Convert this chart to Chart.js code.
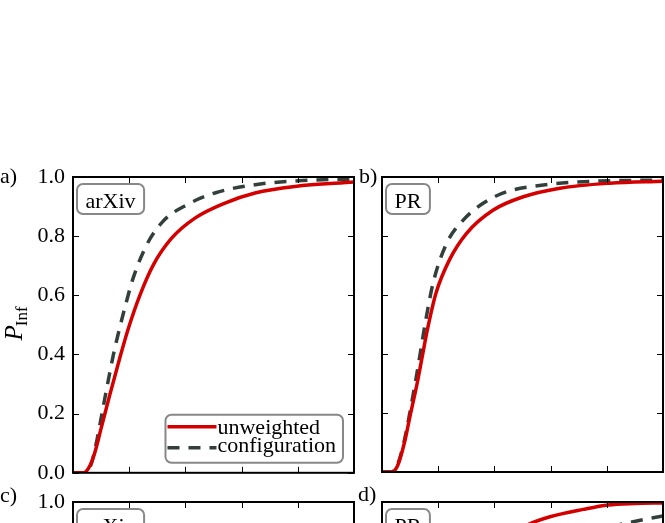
<!DOCTYPE html>
<html>
<head>
<meta charset="utf-8">
<script src="https://cdn.jsdelivr.net/npm/chart.js@4.4.1/dist/chart.umd.min.js"></script>
<style>
  html, body { margin: 0; padding: 0; background: #fff; }
  #wrap { position: relative; width: 665px; height: 523px; overflow: hidden; background: #fff; }
  #wrap canvas { position: absolute; }
</style>
</head>
<body>
<div id="wrap">
  <canvas id="panelA" width="358" height="344" style="left:0px;top:150px"></canvas>
  <canvas id="panelB" width="310" height="330" style="left:355px;top:150px"></canvas>
  <canvas id="panelC" width="358" height="344" style="left:0px;top:475px"></canvas>
  <canvas id="panelD" width="310" height="330" style="left:355px;top:475px"></canvas>
</div>
<script>
// axis ticks (no x labels are shown in the figure)
var xTicks = [0, 0.2, 0.4, 0.6, 0.8, 1.0];
var yTicks = [0, 0.2, 0.4, 0.6, 0.8, 1.0];
var seriesNames = ['unweighted', 'configuration'];

// a) arXiv
var arxivUnwX  = [0, 0.036, 0.055, 0.075, 0.1, 0.13, 0.167, 0.197, 0.238, 0.286, 0.351, 0.434, 0.541, 0.648, 0.79, 1.0];
var arxivUnwY  = [0, 0, 0.015, 0.06, 0.15, 0.26, 0.39, 0.488, 0.6, 0.703, 0.793, 0.861, 0.912, 0.946, 0.968, 0.983];
var arxivConfX = [0, 0.045, 0.065, 0.085, 0.105, 0.125, 0.144, 0.161, 0.185, 0.214, 0.262, 0.321, 0.405, 0.505, 0.648, 0.815, 1.0];
var arxivConfY = [0, 0, 0.03, 0.11, 0.21, 0.31, 0.4, 0.47, 0.56, 0.658, 0.77, 0.851, 0.906, 0.946, 0.974, 0.988, 0.993];

// b) PR
var prUnwX  = [0, 0.034, 0.055, 0.08, 0.1, 0.125, 0.143, 0.161, 0.192, 0.24, 0.301, 0.396, 0.503, 0.633, 0.811, 1.0];
var prUnwY  = [0, 0, 0.02, 0.1, 0.19, 0.3, 0.39, 0.48, 0.606, 0.719, 0.809, 0.888, 0.933, 0.962, 0.979, 0.986];
var prConfX = [0, 0.032, 0.053, 0.078, 0.097, 0.118, 0.134, 0.153, 0.183, 0.23, 0.289, 0.36, 0.444, 0.574, 0.716, 1.0];
var prConfY = [0, 0, 0.02, 0.1, 0.19, 0.3, 0.39, 0.5, 0.645, 0.775, 0.854, 0.911, 0.95, 0.973, 0.984, 0.99];

// c) arXiv, lower row (only the top edge is in view)
var arxiv2UnwX  = [0, 0.1, 0.2, 0.3, 0.4, 0.5, 0.6, 0.7, 0.8, 0.9, 1.0];
var arxiv2UnwY  = [0, 0.1, 0.35, 0.55, 0.68, 0.76, 0.82, 0.86, 0.88, 0.9, 0.91];
var arxiv2ConfX = [0, 0.1, 0.2, 0.3, 0.4, 0.5, 0.6, 0.7, 0.8, 0.9, 1.0];
var arxiv2ConfY = [0, 0.05, 0.25, 0.45, 0.58, 0.67, 0.74, 0.79, 0.83, 0.86, 0.88];

// d) PR, lower row
var pr2UnwX  = [0, 0.05, 0.1, 0.15, 0.2, 0.3, 0.4, 0.516, 0.598, 0.716, 0.805, 0.9, 1.0];
var pr2UnwY  = [0, 0.05, 0.25, 0.45, 0.6, 0.76, 0.86, 0.922, 0.95, 0.975, 0.99, 0.995, 0.997];
var pr2ConfX = [0, 0.1, 0.2, 0.3, 0.4, 0.5, 0.6, 0.7, 0.8, 0.894, 1.0];
var pr2ConfY = [0, 0.05, 0.3, 0.55, 0.7, 0.79, 0.84, 0.885, 0.913, 0.933, 0.953];

var red  = '#d40000',
    dark = '#333f3b',
    serif = "'Liberation Serif', 'DejaVu Serif', serif";

var zip = function(xs, ys){
    return xs.map(function(x, i){ return {x: x, y: ys[i]}; });
};

var roundBox = function(ctx, x, y, w, h, r){
    ctx.beginPath();
    ctx.moveTo(x + r, y);
    ctx.lineTo(x + w - r, y);
    ctx.arcTo(x + w, y, x + w, y + r, r);
    ctx.lineTo(x + w, y + h - r);
    ctx.arcTo(x + w, y + h, x + w - r, y + h, r);
    ctx.lineTo(x + r, y + h);
    ctx.arcTo(x, y + h, x, y + h - r, r);
    ctx.lineTo(x, y + r);
    ctx.arcTo(x, y, x + r, y, r);
    ctx.closePath();
};

// frame, inward ticks, panel letter, name box, legend, y title
var framePlugin = {
    id: 'frame',
    afterDatasetsDraw: function(chart){
        var ctx = chart.ctx,
            a   = chart.chartArea,
            o   = chart.options.plugins.frame,
            xs  = chart.scales.x,
            ys  = chart.scales.y;

        ctx.save();
        ctx.strokeStyle = '#000';
        ctx.lineWidth = 1;
        ctx.beginPath();
        xTicks.forEach(function(v){
            var px = Math.round(xs.getPixelForValue(v)) + 0.5;
            ctx.moveTo(px, a.bottom); ctx.lineTo(px, a.bottom - 6);
            ctx.moveTo(px, a.top);    ctx.lineTo(px, a.top + 6);
        });
        yTicks.forEach(function(v){
            var py = Math.round(ys.getPixelForValue(v)) + 0.5;
            ctx.moveTo(a.left, py);  ctx.lineTo(a.left + 6, py);
            ctx.moveTo(a.right, py); ctx.lineTo(a.right - 6, py);
        });
        ctx.stroke();

        ctx.lineWidth = 2;
        ctx.strokeRect(a.left, a.top, a.right - a.left, a.bottom - a.top);

        // panel letter
        ctx.fillStyle = '#000';
        ctx.font = '22px ' + serif;
        ctx.textAlign = 'left';
        ctx.textBaseline = 'alphabetic';
        ctx.fillText(o.letter, a.left + o.letterDx, a.top + o.letterDy);

        // data set name box
        var tw = ctx.measureText(o.name).width;
        ctx.lineWidth = 2;
        ctx.strokeStyle = '#888';
        ctx.fillStyle = '#fff';
        roundBox(ctx, a.left + 4, a.top + 7, tw + 17, 30, 6);
        ctx.fill();
        ctx.stroke();
        ctx.fillStyle = '#000';
        ctx.fillText(o.name, a.left + 12.5, a.top + 31);

        // legend
        if(o.legend){
            var sets = chart.data.datasets,
                wMax = 0;
            sets.forEach(function(d){ wMax = Math.max(wMax, ctx.measureText(d.label).width); });
            var bw = 4 + 49 + 2 + wMax + 4,
                bx = a.right - 11 - bw,
                by = a.bottom - 10 - 48;
            ctx.strokeStyle = '#888';
            ctx.fillStyle = '#fff';
            roundBox(ctx, bx, by, bw, 48, 6);
            ctx.fill();
            ctx.stroke();
            sets.forEach(function(d, i){
                var ly = by + 12 + i * 21;
                ctx.save();
                ctx.strokeStyle = d.borderColor;
                ctx.lineWidth = d.borderWidth;
                ctx.setLineDash(d.borderDash || []);
                ctx.beginPath();
                ctx.moveTo(bx + 2, ly);
                ctx.lineTo(bx + 51, ly);
                ctx.stroke();
                ctx.restore();
                ctx.fillStyle = '#000';
                ctx.fillText(d.label, bx + 52, by + 19 + i * 18.5);
            });
        }

        // y title P_Inf
        if(o.yTitle){
            var cy = (a.top + a.bottom) / 2 - 2;
            ctx.save();
            ctx.translate(22, cy);
            ctx.rotate(-Math.PI / 2);
            ctx.font = 'italic 25px ' + serif;
            var wp = ctx.measureText('P').width;
            ctx.font = '17px ' + serif;
            var wi = ctx.measureText('Inf').width;
            var x0 = -(wp + wi) / 2;
            ctx.font = 'italic 25px ' + serif;
            ctx.fillText('P', x0, 0);
            ctx.font = '17px ' + serif;
            ctx.fillText('Inf', x0 + wp - 1, 5);
            ctx.restore();
        }
        ctx.restore();
    }
};

var makePanel = function(id, series, opt){
    var datasets = [
        {label: seriesNames[0], data: zip(series[0], series[1]),
         borderColor: red, borderWidth: 3.5},
        {label: seriesNames[1], data: zip(series[2], series[3]),
         borderColor: dark, borderWidth: 3.5, borderDash: [12, 9]}
    ];
    datasets.forEach(function(d){
        d.pointRadius = 0;
        d.fill = false;
        d.cubicInterpolationMode = 'monotone';
        d.borderCapStyle = 'butt';
    });

    return new Chart(document.getElementById(id), {
        type: 'line',
        data: {datasets: datasets},
        options: {
            responsive: false,
            animation: false,
            devicePixelRatio: 1,
            layout: {padding: {top: 27, right: opt.padRight, bottom: 8, left: 0}},
            scales: {
                x: {
                    type: 'linear', min: 0, max: 1,
                    afterBuildTicks: function(s){ s.ticks = xTicks.map(function(v){ return {value: v}; }); },
                    ticks: {display: false},
                    grid: {display: false, drawTicks: false},
                    border: {display: false},
                    afterFit: function(s){ s.height = 0; }
                },
                y: {
                    type: 'linear', min: 0, max: 1,
                    afterBuildTicks: function(s){ s.ticks = yTicks.map(function(v){ return {value: v}; }); },
                    ticks: {
                        display: opt.yLabels,
                        padding: 8,
                        color: '#000',
                        font: {family: serif, size: 22},
                        callback: function(v){ return v.toFixed(1); }
                    },
                    grid: {display: false, drawTicks: false},
                    border: {display: false},
                    afterFit: function(s){ s.width = opt.axisWidth; }
                }
            },
            plugins: {
                legend: {display: false},
                tooltip: {enabled: false},
                frame: {
                    letter: opt.letter, letterDx: opt.letterDx, letterDy: opt.letterDy,
                    name: opt.name, legend: opt.legend, yTitle: opt.yTitle
                }
            }
        },
        plugins: [framePlugin]
    });
};

makePanel('panelA', [arxivUnwX, arxivUnwY, arxivConfX, arxivConfY],
    {letter: 'a)', letterDx: -73, letterDy: 6, name: 'arXiv', legend: true, yTitle: true,
     yLabels: true, axisWidth: 73, padRight: 4});
makePanel('panelB', [prUnwX, prUnwY, prConfX, prConfY],
    {letter: 'b)', letterDx: -23, letterDy: 6, name: 'PR', legend: false, yTitle: false,
     yLabels: false, axisWidth: 27, padRight: 2});
makePanel('panelC', [arxiv2UnwX, arxiv2UnwY, arxiv2ConfX, arxiv2ConfY],
    {letter: 'c)', letterDx: -73, letterDy: 0, name: 'arXiv', legend: false, yTitle: true,
     yLabels: true, axisWidth: 73, padRight: 4});
makePanel('panelD', [pr2UnwX, pr2UnwY, pr2ConfX, pr2ConfY],
    {letter: 'd)', letterDx: -24, letterDy: -1, name: 'PR', legend: false, yTitle: false,
     yLabels: false, axisWidth: 27, padRight: 2});
</script>
</body>
</html>
